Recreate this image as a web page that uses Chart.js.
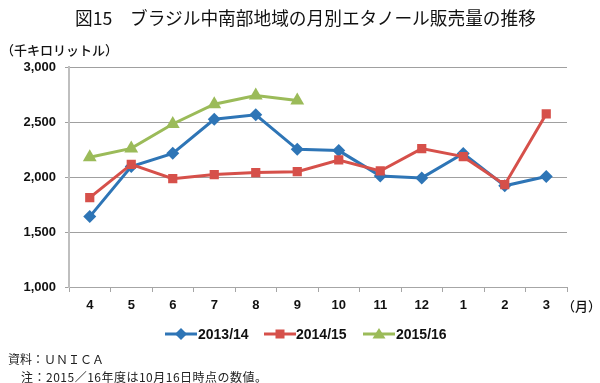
<!DOCTYPE html>
<html><head><meta charset="utf-8">
<script src="https://cdn.jsdelivr.net/npm/chart.js@4/dist/chart.umd.min.js"></script>
<style>
html,body{margin:0;padding:0;background:#fff;}
#wrap{position:relative;width:600px;height:383px;overflow:hidden;}
#c{position:absolute;left:0;top:0;}
.t{position:absolute;white-space:nowrap;font-family:"Noto Sans CJK JP","Noto Sans",sans-serif;color:#111;}
.lg{position:absolute;top:326px;height:16px;}
.lgt{position:absolute;font-family:"Liberation Sans",Arial,sans-serif;font-weight:bold;font-size:14px;line-height:16px;top:326px;color:#111;}
</style></head><body>
<div id="wrap">
<canvas id="c" width="600" height="383"></canvas>
<div class="t" style="left:75px;top:5px;font-size:17.7px;line-height:24px;font-weight:400;">図15　ブラジル中南部地域の月別エタノール販売量の推移</div>
<div class="t" style="left:1px;top:41px;font-size:13px;line-height:18px;font-weight:500;">（千キロリットル）</div>
<div class="t" style="left:562px;top:297px;font-size:13px;line-height:18px;font-weight:500;">（月）</div>
<div id="legend"></div>
<div class="t" style="left:8px;top:351px;font-size:12px;line-height:16px;color:#222;">資料：ＵＮＩＣＡ</div>
<div class="t" style="left:21px;top:369px;font-size:12px;line-height:16px;color:#222;letter-spacing:0.5px;">注：2015／16年度は10月16日時点の数値。</div>
</div>
<script>
const months = ['4','5','6','7','8','9','10','11','12','1','2','3'];
const series2013 = [1640, 2095, 2215, 2525, 2565, 2252, 2240, 2010, 1992, 2213, 1920, 2005];
const series2014 = [1812, 2115, 1985, 2022, 2040, 2048, 2155, 2055, 2258, 2185, 1930, 2573];
const series2015 = [2180, 2260, 2482, 2662, 2740, 2695];
const seriesNames = ['2013/14', '2014/15', '2015/16'];
const yMin = 1000, yMax = 3000, yStep = 500;

const colors = ['#2E75B6', '#D6504A', '#9BBB59'];
const styles = ['rectRot', 'rect', 'triangle'];
const radii = [6.5, 6.5, 8];
const allSeries = [series2013, series2014, series2015];

const datasets = allSeries.map((d, i) => ({
  label: seriesNames[i],
  data: d,
  borderColor: colors[i],
  backgroundColor: colors[i],
  pointBackgroundColor: colors[i],
  pointBorderColor: colors[i],
  pointStyle: styles[i],
  pointRadius: radii[i],
  pointBorderWidth: 0,
  borderWidth: 3,
  tension: 0,
  order: 3 - i
}));

new Chart(document.getElementById('c'), {
  type: 'line',
  data: { labels: months, datasets },
  options: {
    responsive: false,
    animation: false,
    devicePixelRatio: 1,
    layout: { padding: { left: 0, top: 67, right: 33, bottom: 66 } },
    plugins: { legend: { display: false }, tooltip: { enabled: false }, title: { display: false } },
    scales: {
      x: {
        offset: true,
        grid: { offset: true, drawOnChartArea: false, drawTicks: true, tickLength: 5, color: '#A6A6A6', lineWidth: 1 },
        border: { display: true, color: '#A6A6A6', width: 1 },
        ticks: { color: '#111', font: { family: 'Liberation Sans', weight: 'bold', size: 13 }, padding: 6, maxRotation: 0, autoSkip: false },
        afterFit: s => { s.height = 30; }
      },
      y: {
        min: yMin, max: yMax,
        grid: { color: '#A0A0A0', lineWidth: 1, drawTicks: true, tickLength: 4 },
        border: { display: true, color: '#BFBFBF', width: 2 },
        ticks: { stepSize: yStep, color: '#111', font: { family: 'Liberation Sans', weight: 'bold', size: 13 }, padding: 9,
          callback: v => v.toLocaleString('en-US') },
        afterFit: s => { s.width = 69; }
      }
    }
  }
});

// HTML legend
const lgPos = [[165, 198], [264, 296], [363, 396]];
const lg = document.getElementById('legend');
seriesNames.forEach((name, i) => {
  const [lx, tx] = lgPos[i];
  const c = colors[i];
  let marker;
  if (i === 0) marker = `<polygon points="16,2 22,8 16,14 10,8" fill="${c}"/>`;
  else if (i === 1) marker = `<rect x="11.5" y="3.5" width="9" height="9" fill="${c}"/>`;
  else marker = `<polygon points="16,2 22.5,12.5 9.5,12.5" fill="${c}"/>`;
  lg.insertAdjacentHTML('beforeend',
    `<svg class="lg" style="left:${lx}px" width="33" height="16"><line x1="0" y1="8" x2="32" y2="8" stroke="${c}" stroke-width="3"/>${marker}</svg>` +
    `<div class="lgt" style="left:${tx}px">${name}</div>`);
});
</script>
</body></html>
